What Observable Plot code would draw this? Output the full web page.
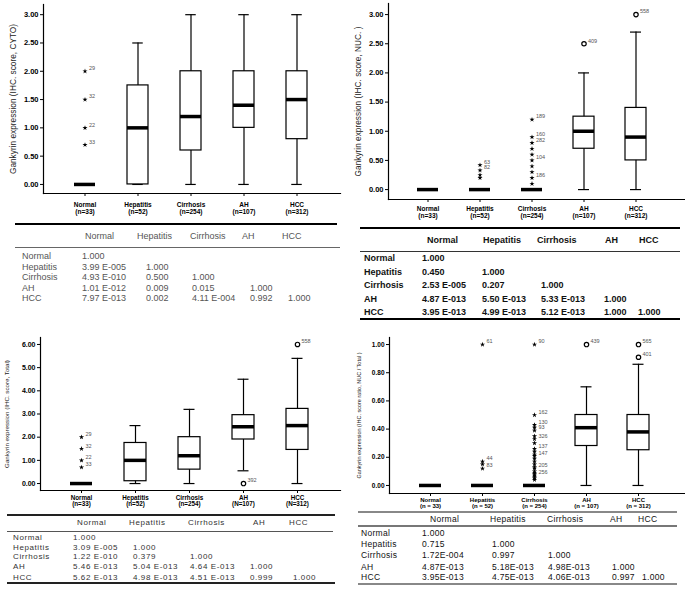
<!DOCTYPE html>
<html><head><meta charset="utf-8">
<script src="https://cdn.jsdelivr.net/npm/d3@7"></script>
<script src="https://cdn.jsdelivr.net/npm/@observablehq/plot@0.6"></script>
<style>
body{margin:0;background:#fff;}
#fig{position:relative;width:685px;height:589px;overflow:hidden;background:#fff;font-family:"Liberation Sans",Arial,sans-serif;}
.panel{position:absolute;}
.t{position:absolute;white-space:nowrap;line-height:1;transform:translateY(-50%);}
.ln{position:absolute;}
</style></head><body><div id="fig"></div><script>
// ---------- DATA ----------
const categories = ["Normal", "Hepatitis", "Cirrhosis", "AH", "HCC"];
const nLabelsA = ["(n=33)", "(n=52)", "(n=254)", "(n=107)", "(n=312)"];
const nLabelsC = ["(n=33)", "(n=52)", "(n=254)", "(N=107)", "(N=312)"];
const nLabelsD = ["(n = 33)", "(n = 52)", "(n = 254)", "(n = 107)", "(n = 312)"];

// Panel A: cytoplasmic score
const cytoLow  = [0, 0, 0, 0, 0];
const cytoQ1   = [0, 0, 0.6, 1.0, 0.8];
const cytoMed  = [0, 1.0, 1.2, 1.4, 1.5];
const cytoQ3   = [0, 1.75, 2.0, 2.0, 2.0];
const cytoHigh = [0, 2.5, 3.0, 3.0, 3.0];
const cytoOutCat = ["Normal", "Normal", "Normal", "Normal"];
const cytoOutVal = [2.0, 1.5, 1.0, 0.7];
const cytoOutId  = ["29", "32", "22", "33"];
const cytoOutSym = ["*", "*", "*", "*"];
const cytoTicks = [0, 0.5, 1, 1.5, 2, 2.5, 3];

// Panel B: nuclear score
const nucLow  = [0, 0, 0, 0, 0];
const nucQ1   = [0, 0, 0, 0.7, 0.5];
const nucMed  = [0, 0, 0, 1.0, 0.9];
const nucQ3   = [0, 0, 0, 1.25, 1.4];
const nucHigh = [0, 0, 0, 2.0, 2.7];
const nucOutCat = ["Hepatitis", "Hepatitis", "Hepatitis", "Hepatitis",
  "Cirrhosis", "Cirrhosis", "Cirrhosis", "Cirrhosis", "Cirrhosis", "Cirrhosis", "Cirrhosis", "Cirrhosis", "Cirrhosis", "Cirrhosis",
  "AH", "HCC"];
const nucOutVal = [0.42, 0.33, 0.25, 0.2, 1.2, 0.9, 0.8, 0.7, 0.6, 0.5, 0.4, 0.3, 0.2, 0.1, 2.5, 3.0];
const nucOutId  = ["63", "82", "", "", "189", "160", "282", "", "", "104", "", "", "186", "", "409", "558"];
const nucOutSym = ["*", "*", "*", "*", "*", "*", "*", "*", "*", "*", "*", "*", "*", "*", "o", "o"];
const nucTicks = [0, 0.5, 1, 1.5, 2, 2.5, 3];

// Panel C: total score
const totLow  = [0, 0, 0, 0.55, 0];
const totQ1   = [0, 0.1, 0.6, 1.9, 1.45];
const totMed  = [0, 1.0, 1.2, 2.45, 2.5];
const totQ3   = [0, 1.75, 2.0, 2.95, 3.22];
const totHigh = [0, 2.5, 3.2, 4.5, 5.4];
const totOutCat = ["Normal", "Normal", "Normal", "Normal", "AH", "HCC"];
const totOutVal = [2.0, 1.5, 1.0, 0.7, 0, 6.0];
const totOutId  = ["29", "32", "22", "33", "392", "558"];
const totOutSym = ["*", "*", "*", "*", "o", "o"];
const totTicks = [0, 1, 2, 3, 4, 5, 6];

// Panel D: NUC / Total ratio
const ratLow  = [0, 0, 0, 0, 0];
const ratQ1   = [0, 0, 0, 0.28, 0.25];
const ratMed  = [0, 0, 0, 0.41, 0.38];
const ratQ3   = [0, 0, 0, 0.5, 0.5];
const ratHigh = [0, 0, 0, 0.7, 0.86];
const ratOutCat = ["Hepatitis", "Hepatitis", "Hepatitis", "Hepatitis",
  "Cirrhosis", "Cirrhosis", "Cirrhosis", "Cirrhosis", "Cirrhosis", "Cirrhosis", "Cirrhosis", "Cirrhosis", "Cirrhosis",
  "Cirrhosis", "Cirrhosis", "Cirrhosis", "Cirrhosis", "Cirrhosis", "Cirrhosis", "Cirrhosis", "Cirrhosis", "Cirrhosis",
  "Cirrhosis", "Cirrhosis", "Cirrhosis", "Cirrhosis", "Cirrhosis", "Cirrhosis",
  "AH", "HCC", "HCC"];
const ratOutVal = [1.0, 0.17, 0.15, 0.12,
  1.0, 0.5, 0.43, 0.41, 0.39, 0.35, 0.33, 0.3, 0.26,
  0.24, 0.22, 0.21, 0.19, 0.17, 0.15, 0.13, 0.12, 0.1,
  0.09, 0.08, 0.07, 0.06, 0.05, 0.04,
  1.0, 1.0, 0.91];
const ratOutId = ["61", "44", "", "83",
  "90", "162", "130", "", "93", "", "326", "", "137",
  "", "", "147", "", "", "", "", "205", "",
  "", "", "256", "", "", "",
  "439", "565", "401"];
const ratOutSym = ["*", "*", "*", "*",
  "*", "*", "*", "*", "*", "*", "*", "*", "*",
  "*", "*", "*", "*", "*", "*", "*", "*", "*",
  "*", "*", "*", "*", "*", "*",
  "o", "o", "o"];
const ratTicks = [0, 0.2, 0.4, 0.6, 0.8, 1.0];

// Tables (pairwise p-values)
const tableRows = ["Normal", "Hepatitis", "Cirrhosis", "AH", "HCC"];
const tableCols = ["Normal", "Hepatitis", "Cirrhosis", "AH", "HCC"];
const pCyto = [["1.000"], ["3.99 E-005", "1.000"], ["4.93 E-010", "0.500", "1.000"],
  ["1.01 E-012", "0.009", "0.015", "1.000"], ["7.97 E-013", "0.002", "4.11 E-004", "0.992", "1.000"]];
const pNuc = [["1.000"], ["0.450", "1.000"], ["2.53 E-005", "0.207", "1.000"],
  ["4.87 E-013", "5.50 E-013", "5.33 E-013", "1.000"], ["3.95 E-013", "4.99 E-013", "5.12 E-013", "1.000", "1.000"]];
const pTotal = [["1.000"], ["3.09 E-005", "1.000"], ["1.22 E-010", "0.379", "1.000"],
  ["5.46 E-013", "5.04 E-013", "4.64 E-013", "1.000"], ["5.62 E-013", "4.98 E-013", "4.51 E-013", "0.999", "1.000"]];
const pRatio = [["1.000"], ["0.715", "1.000"], ["1.72E-004", "0.997", "1.000"],
  ["4.87E-013", "5.18E-013", "4.98E-013", "1.000"], ["3.95E-013", "4.75E-013", "4.06E-013", "0.997", "1.000"]];

// ---------- RENDER ----------
const fig = document.getElementById("fig");
const FONT = "Liberation Sans, Arial, sans-serif";

function boxPanel(c) {
  const rows = categories.map((cat, i) => ({cat, lo: c.low[i], q1: c.q1[i], med: c.med[i], q3: c.q3[i], hi: c.high[i]}));
  const outs = c.outCat.map((cat, i) => ({cat, v: c.outVal[i], id: c.outId[i], sym: c.outSym[i]}));
  const stars = outs.filter(d => d.sym === "*");
  const circles = outs.filter(d => d.sym === "o");
  const capInset = (c.boxWidth - c.capWidth) / 2;
  const svg = Plot.plot({
    width: 340, height: c.height,
    marginLeft: c.marginLeft, marginRight: 0, marginTop: c.marginTop, marginBottom: c.marginBottom,
    style: {fontFamily: FONT, background: "transparent", overflow: "visible", color: "#000"},
    x: {type: "band", domain: categories, range: c.xRange, paddingInner: c.paddingInner, paddingOuter: 0},
    y: {domain: c.yDomain},
    marks: [
      Plot.frame({anchor: "left", strokeWidth: 1.2}),
      Plot.frame({anchor: "bottom", strokeWidth: 1.2}),
      Plot.axisY({ticks: c.yTicks, tickFormat: d3.format(".2f"), tickSize: 3, tickPadding: 2,
        fontSize: c.yTickFont, fontWeight: "bold", label: null}),
      Plot.axisX({tickSize: 3, tickPadding: c.xTickPad, fontSize: c.xTickFont, fontWeight: "bold",
        lineHeight: c.xLineHeight, label: null,
        tickFormat: d => d + "\n" + c.nLabels[categories.indexOf(d)]}),
      Plot.ruleX(rows, {x: "cat", y1: "lo", y2: "hi", strokeWidth: 1.2}),
      Plot.tickY(rows, {x: "cat", y: "lo", insetLeft: capInset, insetRight: capInset, strokeWidth: 1.2}),
      Plot.tickY(rows, {x: "cat", y: "hi", insetLeft: capInset, insetRight: capInset, strokeWidth: 1.2}),
      Plot.barY(rows, {x: "cat", y1: "q1", y2: "q3", fill: "white", stroke: "black", strokeWidth: 1.2}),
      Plot.tickY(rows, {x: "cat", y: "med", strokeWidth: 3.5}),
      Plot.dot(stars, {x: "cat", y: "v", symbol: "star", r: 1.6, fill: "black", stroke: null}),
      Plot.dot(circles, {x: "cat", y: "v", r: 2.2, stroke: "black", strokeWidth: 1.2, fill: "white"}),
      Plot.text(outs, {x: "cat", y: "v", text: "id", dx: 4, dy: -3, textAnchor: "start", fontSize: 5.5, fill: "#555"}),
      Plot.text([c.yLabel], {text: d => d, frameAnchor: "left", textAnchor: "middle", rotate: -90, dx: -c.labelOffset,
        fontSize: c.yLabelFont, fill: "#222"})
    ]
  });
  const wrap = document.createElement("div");
  wrap.className = "panel";
  wrap.style.left = c.left + "px";
  wrap.style.top = c.top + "px";
  wrap.appendChild(svg);
  fig.appendChild(wrap);
}

function pTable(c) {
  const add = (txt, x, y) => {
    const d = document.createElement("div");
    d.className = "t";
    d.textContent = txt;
    d.style.left = x + "px";
    d.style.top = y + "px";
    d.style.fontSize = c.size + "px";
    d.style.fontWeight = c.weight;
    d.style.color = c.color;
    d.style.letterSpacing = c.ls + "px";
    fig.appendChild(d);
  };
  c.lines.forEach(l => {
    const d = document.createElement("div");
    d.className = "ln";
    d.style.left = l.x1 + "px";
    d.style.top = (l.y - l.h / 2) + "px";
    d.style.width = (l.x2 - l.x1) + "px";
    d.style.height = l.h + "px";
    d.style.background = l.c;
    fig.appendChild(d);
  });
  tableCols.forEach((h, j) => add(h, c.headX[j], c.headY));
  tableRows.forEach((r, i) => {
    add(r, c.rowX, c.rowY[i]);
    c.values[i].forEach((v, j) => add(v, c.valX[j], c.rowY[i]));
  });
}

// Panel A
boxPanel({left: 0, top: 0, height: 218, marginLeft: 43, marginTop: 4, marginBottom: 25,
  xRange: [73.25, 307.75], paddingInner: 0.596, boxWidth: 21.5, capWidth: 11,
  yDomain: [-0.16, 3.18], yTicks: cytoTicks, yTickFont: 7.5,
  xTickFont: 6.5, xTickPad: 4.5, xLineHeight: 1.2, nLabels: nLabelsA,
  low: cytoLow, q1: cytoQ1, med: cytoMed, q3: cytoQ3, high: cytoHigh,
  outCat: cytoOutCat, outVal: cytoOutVal, outId: cytoOutId, outSym: cytoOutSym,
  yLabel: "Gankyrin expression (IHC. score, CYTO)", labelOffset: 30, yLabelFont: 8.3});

// Panel B
boxPanel({left: 345, top: 0, height: 222, marginLeft: 43, marginTop: 3, marginBottom: 23,
  xRange: [71.5, 301.5], paddingInner: 0.598, boxWidth: 21, capWidth: 11,
  yDomain: [-0.17, 3.19], yTicks: nucTicks, yTickFont: 7.5,
  xTickFont: 6.5, xTickPad: 3.7, xLineHeight: 1.1, nLabels: nLabelsA,
  low: nucLow, q1: nucQ1, med: nucMed, q3: nucQ3, high: nucHigh,
  outCat: nucOutCat, outVal: nucOutVal, outId: nucOutId, outSym: nucOutSym,
  yLabel: "Gankyrin expression (IHC. score, NUC. )", labelOffset: 30, yLabelFont: 8.3});

// Panel C
boxPanel({left: 0, top: 330, height: 180, marginLeft: 40, marginTop: 7, marginBottom: 20,
  xRange: [69, 309], paddingInner: 0.596, boxWidth: 22, capWidth: 11,
  yDomain: [-0.30, 6.30], yTicks: totTicks, yTickFont: 7,
  xTickFont: 6.3, xTickPad: 2.7, xLineHeight: 0.95, nLabels: nLabelsC,
  low: totLow, q1: totQ1, med: totMed, q3: totQ3, high: totHigh,
  outCat: totOutCat, outVal: totOutVal, outId: totOutId, outSym: totOutSym,
  yLabel: "Gankyrin expression (IHC. score, Total)", labelOffset: 33, yLabelFont: 6.2});

// Panel D
boxPanel({left: 345, top: 330, height: 180, marginLeft: 44, marginTop: 7, marginBottom: 17,
  xRange: [74, 304], paddingInner: 0.577, boxWidth: 22, capWidth: 11,
  yDomain: [-0.057, 1.05], yTicks: ratTicks, yTickFont: 6.5,
  xTickFont: 6, xTickPad: 1.8, xLineHeight: 0.9, nLabels: nLabelsD,
  low: ratLow, q1: ratQ1, med: ratMed, q3: ratQ3, high: ratHigh,
  outCat: ratOutCat, outVal: ratOutVal, outId: ratOutId, outSym: ratOutSym,
  yLabel: "Gankyrin expression (IHC. score ratio, NUC / Total )", labelOffset: 30, yLabelFont: 5.5});

// Tables
pTable({values: pCyto, rowX: 22, headX: [85, 137, 190, 242, 282], valX: [82, 146, 192, 250, 288],
  headY: 236, rowY: [256, 267, 277, 288, 298],
  lines: [{y: 224, x1: 15, x2: 337, h: 2, c: "#000"}, {y: 247, x1: 15, x2: 340, h: 1, c: "#666"}],
  size: 9, weight: "normal", color: "#555", ls: 0});
pTable({values: pNuc, rowX: 364, headX: [427, 483, 537, 605, 639], valX: [422, 482, 541, 604, 638],
  headY: 240, rowY: [258, 272, 285, 299, 312],
  lines: [{y: 228, x1: 360, x2: 680, h: 2, c: "#000"}, {y: 251, x1: 360, x2: 680, h: 1, c: "#333"},
          {y: 319, x1: 360, x2: 680, h: 2, c: "#000"}],
  size: 9, weight: "bold", color: "#111", ls: 0});
pTable({values: pTotal, rowX: 13, headX: [77, 129, 188, 253, 289], valX: [73, 133, 190, 250, 293],
  headY: 523, rowY: [538, 548, 557, 567, 578],
  lines: [{y: 515, x1: 7, x2: 335, h: 2, c: "#222"}, {y: 531, x1: 7, x2: 333, h: 1, c: "#555"},
          {y: 583, x1: 7, x2: 335, h: 2, c: "#222"}],
  size: 8, weight: "normal", color: "#333", ls: 0.6});
pTable({values: pRatio, rowX: 361, headX: [430, 490, 547, 610, 638], valX: [422, 492, 548, 612, 642],
  headY: 519, rowY: [533, 544, 555, 567, 577],
  lines: [{y: 512, x1: 358, x2: 677, h: 1.5, c: "#888"}, {y: 526, x1: 358, x2: 677, h: 1.5, c: "#777"},
          {y: 584, x1: 358, x2: 677, h: 1.5, c: "#888"}],
  size: 8.5, weight: "normal", color: "#111", ls: 0.3});
</script></body></html>
